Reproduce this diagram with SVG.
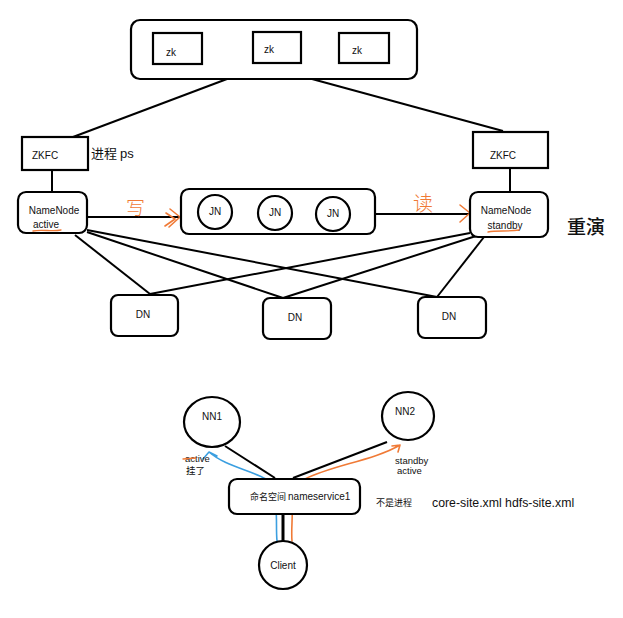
<svg xmlns="http://www.w3.org/2000/svg" width="623" height="618" viewBox="0 0 623 618">
<style>
.box{fill:#fff;stroke:#000;stroke-width:2.2}
.ln{fill:none;stroke:#000;stroke-width:2}
.or{fill:none;stroke:#f07a36;stroke-width:1.6;stroke-linecap:round;stroke-linejoin:round}
.bl{fill:none;stroke:#3b9fe0;stroke-width:1.6;stroke-linecap:round;stroke-linejoin:round}
.t{font-family:"Liberation Sans","Noto Sans CJK SC",sans-serif;font-size:10px;fill:#111}
.c{text-anchor:middle}
.cjk{font-family:"Noto Sans CJK SC","Liberation Sans",sans-serif;fill:#111}
</style>
<rect width="623" height="618" fill="#fff"/>
<g id="connectors">
  <line class="ln" x1="227" y1="79" x2="73" y2="137"/>
  <line class="ln" x1="312" y1="79" x2="503" y2="131"/>
  <line class="ln" x1="52" y1="170" x2="52" y2="192"/>
  <line class="ln" x1="510" y1="168" x2="510" y2="192"/>
  <line class="ln" x1="87" y1="217" x2="181" y2="217"/>
  <line class="ln" x1="375" y1="214" x2="470" y2="214"/>
  <line class="ln" x1="75" y1="235" x2="150" y2="294"/>
  <line class="ln" x1="87" y1="232" x2="283" y2="298"/>
  <line class="ln" x1="87" y1="230" x2="437" y2="297"/>
  <line class="ln" x1="470" y1="233" x2="150" y2="294"/>
  <line class="ln" x1="476" y1="236" x2="283" y2="298"/>
  <line class="ln" x1="484" y1="237" x2="437" y2="297"/>
  <line class="ln" x1="275" y1="478" x2="225" y2="446"/>
  <line class="ln" x1="293" y1="478" x2="387" y2="442"/>
  <line class="ln" x1="283" y1="515" x2="283" y2="541" style="stroke-width:3"/>
  <path class="or" d="M170 209 L180 217 L169 227 M166 213 L175 219 L165 226"/>
  <path class="or" d="M460 205 L470 213 L460 222"/>
  <path class="bl" d="M266 479 C250 470 225 466 209 452 M209 452 L203 459 M209 452 L217 456"/>
  <path class="or" d="M305 479 C330 466 375 460 400 445 M400 445 L392 446 M400 445 L398 452"/>
  <path class="bl" d="M276 510 C277 520 276 530 277 541"/>
  <path class="or" d="M292 541 C291 530 293 515 292 505 C293 500 295 497 297 495"/>
</g>
<g id="zk-cluster">
  <rect class="box" x="131" y="20" width="286" height="59" rx="9"/>
</g>
<g id="zk1"><rect class="box" x="153" y="33" width="49" height="31"/><text class="t c" x="171" y="56">zk</text></g>
<g id="zk2"><rect class="box" x="253" y="32" width="48" height="31"/><text class="t c" x="269" y="53">zk</text></g>
<g id="zk3"><rect class="box" x="339" y="33" width="50" height="30"/><text class="t c" x="357" y="54">zk</text></g>
<g id="zkfc-left"><rect class="box" x="22" y="137" width="66" height="33"/><text class="t" x="32" y="159">ZKFC</text></g>
<text class="cjk" x="91" y="158" font-size="13">进程 <tspan font-family="Liberation Sans">ps</tspan></text>
<g id="zkfc-right"><rect class="box" x="473" y="132" width="75" height="36"/><text class="t c" x="503" y="159">ZKFC</text></g>
<g id="namenode-active">
  <rect class="box" x="18" y="192" width="69" height="41" rx="8"/>
  <text class="t c" x="54" y="214">NameNode</text>
  <text class="t" x="33" y="228">active</text>
  <path class="or" d="M33 231 C42 229 52 232 61 230" style="stroke-width:1.3"/>
</g>
<text x="126" y="215" font-size="19" fill="#f07a36" font-family="Noto Sans CJK SC,sans-serif" font-weight="300">写</text>
<g id="jn-cluster"><rect class="box" x="181" y="189" width="194" height="45" rx="8"/></g>
<g id="jn1"><circle class="box" cx="215" cy="212" r="17"/><text class="t c" x="215" y="215">JN</text></g>
<g id="jn2"><circle class="box" cx="275" cy="213" r="17"/><text class="t c" x="275" y="216">JN</text></g>
<g id="jn3"><circle class="box" cx="333" cy="214" r="17"/><text class="t c" x="333" y="217">JN</text></g>
<text x="413" y="211" font-size="20" fill="#f07a36" font-family="Noto Sans CJK SC,sans-serif" font-weight="300">读</text>
<g id="namenode-standby">
  <rect class="box" x="470" y="192" width="78" height="45" rx="8"/>
  <text class="t c" x="506" y="214">NameNode</text>
  <text class="t c" x="505" y="229">standby</text>
  <path class="or" d="M488 232 C497 230 508 232 519 230" style="stroke-width:1.3"/>
</g>
<text class="cjk" x="567" y="234" font-size="19" font-weight="500">重演</text>
<g id="dn1"><rect class="box" x="111" y="295" width="67" height="41" rx="7"/><text class="t c" x="143" y="318">DN</text></g>
<g id="dn2"><rect class="box" x="263" y="298" width="68" height="41" rx="7"/><text class="t c" x="295" y="321">DN</text></g>
<g id="dn3"><rect class="box" x="418" y="297" width="68" height="41" rx="7"/><text class="t c" x="449" y="320">DN</text></g>
<g id="nn1"><ellipse class="box" cx="212" cy="422" rx="28" ry="25"/><text class="t c" x="212" y="420">NN1</text></g>
<g id="nn2"><ellipse class="box" cx="408" cy="416" rx="26" ry="24"/><text class="t c" x="405" y="415">NN2</text></g>
<text class="t" x="185" y="462" style="font-size:9.5px">active</text>
<path class="or" d="M183 459 L196 458" style="stroke-width:1.3"/>
<text class="cjk" x="186" y="474" font-size="9.5">挂了</text>
<text class="t" x="395" y="464" style="font-size:9.5px">standby</text>
<text class="t" x="397" y="474" style="font-size:9.5px">active</text>
<g id="nameservice">
  <rect class="box" x="229" y="479" width="131" height="35" rx="8"/>
  <text class="cjk" x="250" y="500" font-size="9">命名空间 <tspan font-family="Liberation Sans" font-size="10">nameservice1</tspan></text>
</g>
<text class="cjk" x="376" y="506" font-size="9">不是进程</text>
<text class="t" x="432" y="507" style="font-size:12.3px">core-site.xml hdfs-site.xml</text>
<g id="client"><circle class="box" cx="283" cy="565" r="24"/><text class="t c" x="283" y="569">Client</text></g>
</svg>
